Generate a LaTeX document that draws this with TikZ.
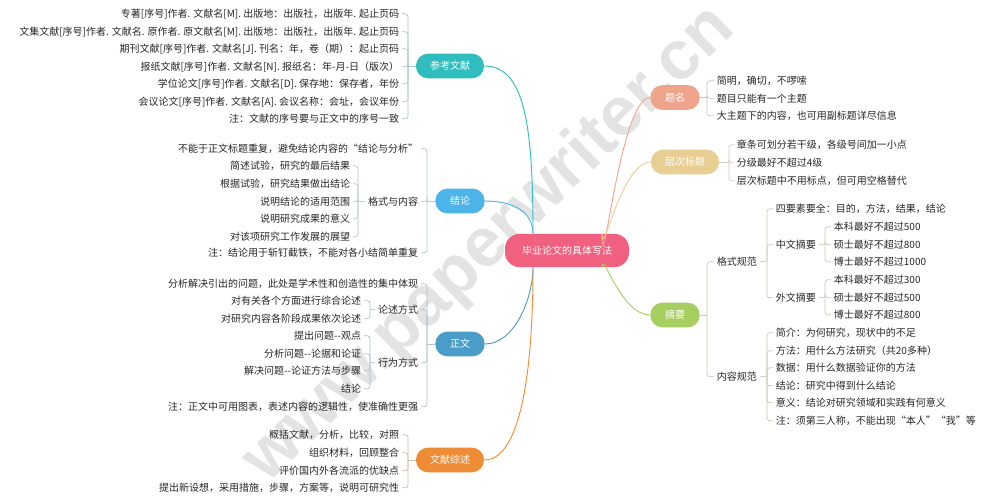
\documentclass[tikz,border=0pt]{standalone}
\usepackage{fontspec}
\setmainfont{Noto Sans CJK SC}
\newfontfamily\markfont{Liberation Sans}
\usetikzlibrary{calc,positioning}
\definecolor{rootc}{HTML}{F2607F}
\definecolor{ckc}{HTML}{2FBDBD}
\definecolor{jlc}{HTML}{4DB4EA}
\definecolor{zwc}{HTML}{4B9DC9}
\definecolor{zsc}{HTML}{EE8C35}
\definecolor{tmc}{HTML}{EFA58C}
\definecolor{ccc}{HTML}{E8CE92}
\definecolor{zyc}{HTML}{A6CE60}
\tikzset{
  leaf/.style={font=\fontsize{7.5pt}{9pt}\selectfont, inner sep=2pt, text=black!85, yshift=-0.6pt},
  lleaf/.style={leaf, anchor=east},
  rleaf/.style={leaf, anchor=west},
  topic/.style={fill=#1, text=white, rounded corners=9pt, minimum height=18.5pt, inner sep=0pt,
    font=\fontsize{7.5pt}{9pt}\selectfont},
  twig/.style={draw=#1!45!gray!55, line width=0.5pt, rounded corners=2pt},
  limb/.style={draw=#1, line width=0.7pt}
}
\begin{document}
\begin{tikzpicture}[x=0.75pt,y=-0.75pt]
\useasboundingbox (0,0) rectangle (988,500);
\node[rotate=44, text=black!11, font=\markfont\bfseries\fontsize{52pt}{58pt}\selectfont] (mark) at (490,245) {www.paperwriter.cn};

\node[fill=rootc, text=white, rounded corners=11pt, minimum width=93pt, minimum height=25pt, inner sep=0pt, font=\fontsize{7.5pt}{9pt}\selectfont] (root) at (567,250.5) {毕业论文的具体写法};
\node[topic=ckc, minimum width=51pt] (ck) at (450,66) {参考文献};
\node[topic=jlc, minimum width=37pt] (jl) at (460,201) {结论};
\node[topic=zwc, minimum width=37pt] (zw) at (460,344) {正文};
\node[topic=zsc, minimum width=51pt] (zs) at (450,460) {文献综述};
\node[topic=tmc, minimum width=37pt] (tm) at (675,97.5) {题名};
\node[topic=ccc, minimum width=51pt] (cc) at (685,162) {层次标题};
\node[topic=zyc, minimum width=37pt] (zy) at (675,315) {摘要};

\draw[limb=tmc] (tm.west) .. controls +(-30,0) and +(0,60) .. ($(root.north)+(35,0)$);
\draw[limb=ccc] (cc.west) .. controls +(-30,0) and +(0,30) .. ($(root.north)+(35,0)$);
\draw[limb=zyc] (zy.west) .. controls +(-30,0) and +(0,-20) .. ($(root.south)+(35,0)$);
\draw[limb=jlc] (jl.east) .. controls +(28,0) and +(0,-22) .. ($(root.north)+(-34,0)$);
\draw[limb=ckc] (ck.east) .. controls +(40,0) and +(0,-110) .. ($(root.north)+(-34,0)$);
\draw[limb=zwc] (zw.east) .. controls +(30,0) and +(0,30) .. ($(root.south)+(-34,0)$);
\draw[limb=zsc] (zs.east) .. controls +(35,0) and +(0,110) .. ($(root.south)+(-34,0)$);

\foreach \i/\y/\t in {1/13/专著[序号]作者. 文献名[M]. 出版地：出版社，出版年. 起止页码,
  2/31/文集文献[序号]作者. 文献名. 原作者. 原文献名[M]. 出版地：出版社，出版年. 起止页码,
  3/48/期刊文献[序号]作者. 文献名[J]. 刊名：年，卷（期）：起止页码,
  4/66/报纸文献[序号]作者. 文献名[N]. 报纸名：年-月-日（版次）,
  5/83/学位论文[序号]作者. 文献名[D]. 保存地：保存者，年份,
  6/101/会议论文[序号]作者. 文献名[A]. 会议名称：会址，会议年份,
  7/118/注：文献的序号要与正文中的序号一致}
{
\node[lleaf] (ck\i) at (402,\y) {\t};
}
\coordinate (ckS) at (408,66);
\draw[twig=ckc] (ck.west) -- (ckS);
\foreach \i in {1,...,7} \draw[twig=ckc] (ckS) |- (ck\i.east);

\foreach \i/\y/\t in {1/148/不能于正文标题重复，避免结论内容的“结论与分析”,
  2/201/格式与内容,
  3/252/注：结论用于斩钉截铁，不能对各小结简单重复}
{
\node[lleaf] (jl\i) at (421,\y) {\t};
}
\coordinate (jlS) at (427,201);
\draw[twig=jlc] (jl.west) -- (jlS);
\foreach \i in {1,2,3} \draw[twig=jlc] (jlS) |- (jl\i.east);

\foreach \i/\y/\t in {1/165/简述试验，研究的最后结果,
  2/183/根据试验，研究结果做出结论,
  3/201/说明结论的适用范围,
  4/218/说明研究成果的意义,
  5/236/对该项研究工作发展的展望}
{
\node[lleaf] (jls\i) at (353,\y) {\t};
}
\coordinate (jlT) at (358,201);
\draw[twig=jlc] (jl2.west) -- (jlT);
\foreach \i in {1,...,5} \draw[twig=jlc] (jlT) |- (jls\i.east);

\foreach \i/\y/\t in {1/283/分析解决引出的问题，此处是学术性和创造性的集中体现,
  2/309/论述方式,
  3/362/行为方式,
  4/406/注：正文中可用图表，表述内容的逻辑性，使准确性更强}
{
\node[lleaf] (zw\i) at (421,\y) {\t};
}
\coordinate (zwS) at (427,344);
\draw[twig=zwc] (zw.west) -- (zwS);
\foreach \i in {1,...,4} \draw[twig=zwc] (zwS) |- (zw\i.east);

\foreach \i/\y/\t in {1/300/对有关各个方面进行综合论述,
  2/318/对研究内容各阶段成果依次论述}
{
\node[lleaf] (zwa\i) at (364,\y) {\t};
}
\coordinate (zwA) at (370,309);
\draw[twig=zwc] (zw2.west) -- (zwA);
\foreach \i in {1,2} \draw[twig=zwc] (zwA) |- (zwa\i.east);

\foreach \i/\y/\t in {1/335/提出问题-{}-观点,
  2/353/分析问题-{}-论据和论证,
  3/370/解决问题-{}-论证方法与步骤,
  4/388/结论}
{
\node[lleaf] (zwb\i) at (364,\y) {\t};
}
\coordinate (zwB) at (370,362);
\draw[twig=zwc] (zw3.west) -- (zwB);
\foreach \i in {1,...,4} \draw[twig=zwc] (zwB) |- (zwb\i.east);

\foreach \i/\y/\t in {1/434/概括文献，分析，比较，对照,
  2/452/组织材料，回顾整合,
  3/470/评价国内外各流派的优缺点,
  4/487/提出新设想，采用措施，步骤，方案等，说明可研究性}
{
\node[lleaf] (zs\i) at (402,\y) {\t};
}
\coordinate (zsS) at (408,460);
\draw[twig=zsc] (zs.west) -- (zsS);
\foreach \i in {1,...,4} \draw[twig=zsc] (zsS) |- (zs\i.east);

\foreach \i/\y/\t in {1/80/简明，确切，不啰嗦,
  2/97.5/题目只能有一个主题,
  3/115/大主题下的内容，也可用副标题详尽信息}
{
\node[rleaf] (tm\i) at (714,\y) {\t};
}
\coordinate (tmS) at (707,97.5);
\draw[twig=tmc] (tm.east) -- (tmS);
\foreach \i in {1,2,3} \draw[twig=tmc] (tmS) |- (tm\i.west);

\foreach \i/\y/\t in {1/144/章条可划分若干级，各级号间加一小点,
  2/162/分级最好不超过4级,
  3/180/层次标题中不用标点，但可用空格替代}
{
\node[rleaf] (cc\i) at (734,\y) {\t};
}
\coordinate (ccS) at (729,162);
\draw[twig=ccc] (cc.east) -- (ccS);
\foreach \i in {1,2,3} \draw[twig=ccc] (ccS) |- (cc\i.west);

\node[rleaf] (zy1) at (714,261) {格式规范};
\node[rleaf] (zy2) at (714,376) {内容规范};
\coordinate (zyS) at (707,315);
\draw[twig=zyc] (zy.east) -- (zyS);
\foreach \i in {1,2} \draw[twig=zyc] (zyS) |- (zy\i.west);

\node[rleaf] (gs1) at (773,208) {四要素要全：目的，方法，结果，结论};
\node[rleaf] (gs2) at (773,244) {中文摘要};
\node[rleaf] (gs3) at (773,297) {外文摘要};
\coordinate (gsS) at (767,261);
\draw[twig=zyc] (zy1.east) -- (gsS);
\foreach \i in {1,2,3} \draw[twig=zyc] (gsS) |- (gs\i.west);

\foreach \i/\y/\t in {1/226/本科最好不超过500,
  2/244/硕士最好不超过800,
  3/261/博士最好不超过1000}
{
\node[rleaf] (zh\i) at (831,\y) {\t};
}
\coordinate (zhS) at (825,244);
\draw[twig=zyc] (gs2.east) -- (zhS);
\foreach \i in {1,2,3} \draw[twig=zyc] (zhS) |- (zh\i.west);

\foreach \i/\y/\t in {1/279/本科最好不超过300,
  2/297/硕士最好不超过500,
  3/314/博士最好不超过800}
{
\node[rleaf] (wy\i) at (831,\y) {\t};
}
\coordinate (wyS) at (825,297);
\draw[twig=zyc] (gs3.east) -- (wyS);
\foreach \i in {1,2,3} \draw[twig=zyc] (wyS) |- (wy\i.west);

\foreach \i/\y/\t in {1/332/简介：为何研究，现状中的不足,
  2/350/方法：用什么方法研究（共20多种）,
  3/367/数据：用什么数据验证你的方法,
  4/385/结论：研究中得到什么结论,
  5/402/意义：结论对研究领域和实践有何意义,
  6/420/注：须第三人称，不能出现“本人”“我”等}
{
\node[rleaf] (nr\i) at (773,\y) {\t};
}
\coordinate (nrS) at (767,376);
\draw[twig=zyc] (zy2.east) -- (nrS);
\foreach \i in {1,...,6} \draw[twig=zyc] (nrS) |- (nr\i.west);
\end{tikzpicture}
\end{document}
